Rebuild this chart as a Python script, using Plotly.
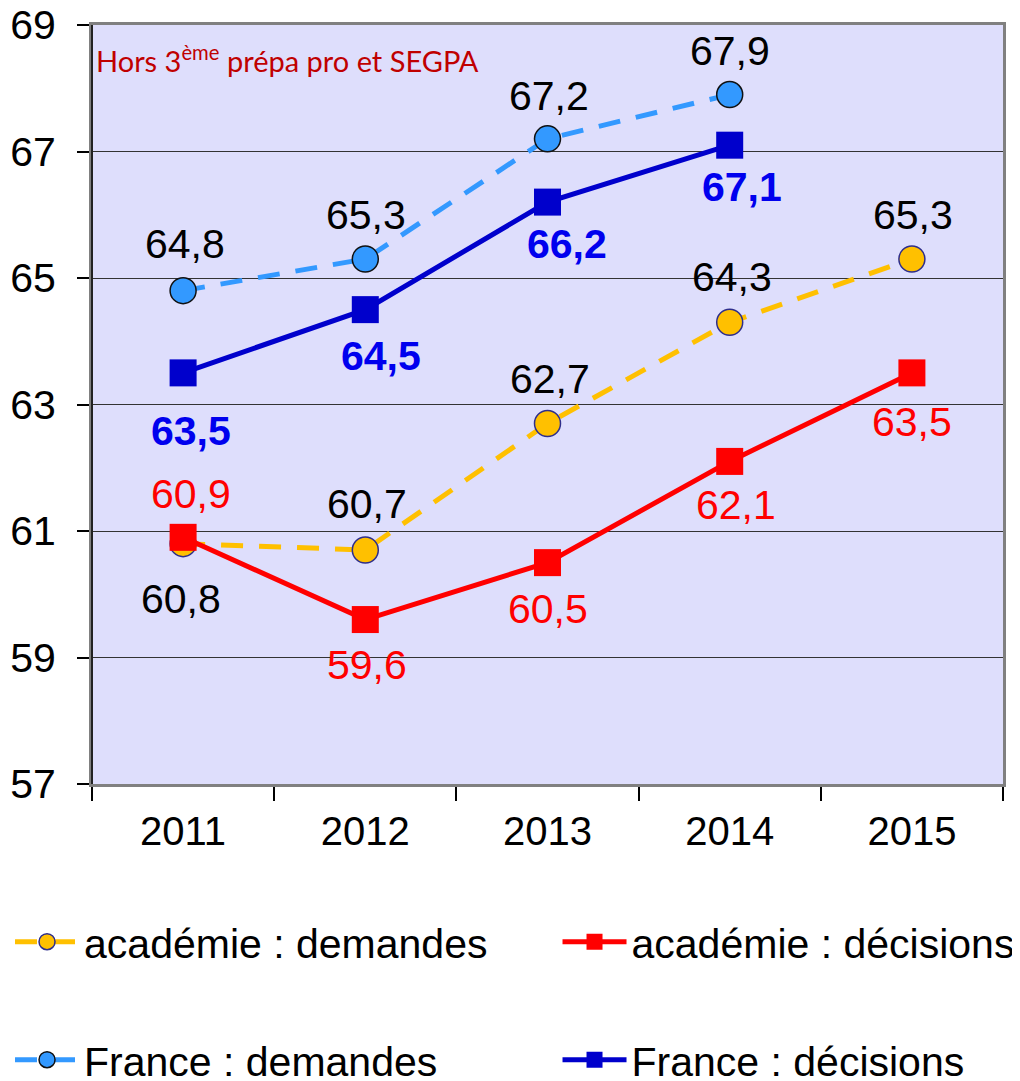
import plotly.graph_objects as go

years = ["2011", "2012", "2013", "2014", "2015"]
acad_dem = [60.8, 60.7, 62.7, 64.3, 65.3]
acad_dec = [60.9, 59.6, 60.5, 62.1, 63.5]
fr_dem = [64.8, 65.3, 67.2, 67.9, None]
fr_dec = [63.5, 64.5, 66.2, 67.1, None]
y_ticks = [57, 59, 61, 63, 65, 67, 69]

# label offsets (style, px): positive = above the point
acad_dem_shift = [-55, 46, 44, 45, 44]
acad_dec_shift = [43, -45, -46, -44, -49]
fr_dem_shift = [47, 44, 43, 44, 0]
fr_dec_shift = [-58, -46, -42, -42, 0]
acad_dem_xs = [-2, 2, 2, 2, 1]
acad_dec_xs = [8, 2, 0, 6, 0]
fr_dem_xs = [2, 1, 1, 0, 0]
fr_dec_xs = [8, 16, 19, 12, 0]

FONT = "Liberation Sans, Arial, sans-serif"
FS = 41

def fmt(v):
    return f"{v:.1f}".replace(".", ",")

fig = go.Figure()

fig.add_trace(go.Scatter(
    x=years, y=acad_dem, name="académie : demandes", mode="lines+markers",
    line=dict(color="#FFC000", width=5, dash="22px,16px"),
    marker=dict(symbol="circle", size=26, color="#FFC000", line=dict(color="#2E2E8C", width=1.5)),
    legend="legend"))
fig.add_trace(go.Scatter(
    x=years, y=acad_dec, name="académie : décisions", mode="lines+markers",
    line=dict(color="#FF0000", width=5),
    marker=dict(symbol="square", size=27, color="#FF0000"),
    legend="legend2"))
fig.add_trace(go.Scatter(
    x=years, y=fr_dem, name="France : demandes", mode="lines+markers",
    line=dict(color="#3399FF", width=5, dash="22px,16px"),
    marker=dict(symbol="circle", size=26, color="#3399FF", line=dict(color="#111111", width=1.5)),
    legend="legend3"))
fig.add_trace(go.Scatter(
    x=years, y=fr_dec, name="France : décisions", mode="lines+markers",
    line=dict(color="#0000CC", width=5),
    marker=dict(symbol="square", size=27, color="#0000CC"),
    legend="legend4"))

annotations = []
def add_labels(vals, shifts, xs, color, bold=False):
    for i, (v, s, dx) in enumerate(zip(vals, shifts, xs)):
        if v is None:
            continue
        t = fmt(v)
        if bold:
            t = "<b>" + t + "</b>"
        annotations.append(dict(x=i, y=v, xref="x", yref="y", text=t, showarrow=False,
                                yshift=s, xshift=dx,
                                font=dict(family=FONT, size=FS, color=color)))

add_labels(acad_dem, acad_dem_shift, acad_dem_xs, "#000000")
add_labels(acad_dec, acad_dec_shift, acad_dec_xs, "#FF0000")
add_labels(fr_dem, fr_dem_shift, fr_dem_xs, "#000000")
add_labels(fr_dec, fr_dec_shift, fr_dec_xs, "#0000EE", bold=True)

annotations.append(dict(x=0.002, y=0.983, xref="paper", yref="paper", xanchor="left", yanchor="top",
                        text="Hors 3<sup>ème</sup> prépa pro et SEGPA", showarrow=False,
                        font=dict(family="Lato, Open Sans, sans-serif", size=29, color="#C00000")))

def leg(x, y):
    return dict(xref="container", yref="container", x=x, y=y, xanchor="left", yanchor="middle",
                bgcolor="rgba(0,0,0,0)", font=dict(family=FONT, size=FS), itemwidth=64)

fig.update_layout(
    width=1012, height=1073,
    margin=dict(l=84, r=17, t=17, b=297, autoexpand=False),
    paper_bgcolor="white", plot_bgcolor="#DEDEFC",
    font=dict(family=FONT, size=FS, color="#000000"),
    annotations=annotations,
    shapes=[dict(type="line", xref="paper", yref="paper", x0=0, x1=0, y0=0, y1=1,
                 line=dict(color="#222222", width=2))],
    xaxis=dict(type="category", range=[-0.5, 4.5], tickson="boundaries",
               ticks="outside", ticklen=14, tickcolor="#000000", tickwidth=1.5, tickangle=0,
               ticklabelstandoff=10, ticklabeloverflow="allow",
               showline=True, linecolor="#808080", linewidth=3, mirror=True,
               showgrid=False, tickfont=dict(family=FONT, size=40), zeroline=False),
    yaxis=dict(range=[57, 69], tickvals=y_ticks, ticks="outside", ticklen=12,
               tickcolor="#000000", tickwidth=1.5, ticklabelstandoff=13,
               ticklabeloverflow="allow",
               showline=True, linecolor="#808080", linewidth=3, mirror=True,
               showgrid=True, gridcolor="#333333", gridwidth=1, zeroline=False,
               tickfont=dict(family=FONT, size=FS)),
    legend=leg(0.002, 0.1295),
    legend2=leg(0.543, 0.1295),
    legend3=leg(0.002, 0.0195),
    legend4=leg(0.543, 0.0195),
    showlegend=True,
)

fig.write_html("out.html")
